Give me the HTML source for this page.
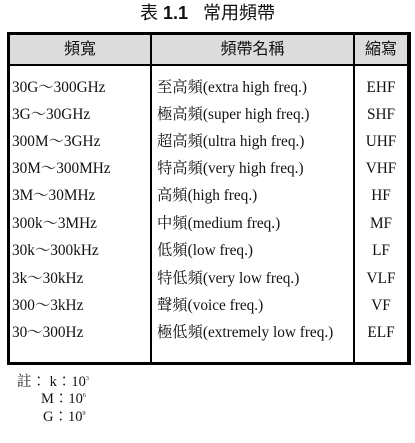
<!DOCTYPE html>
<html><head><meta charset="utf-8"><style>
body{margin:0;width:415px;height:443px;background:#fff;position:relative;overflow:hidden;font-family:"Liberation Serif","Noto Serif CJK TC",serif;color:#111}
.a{position:absolute;white-space:nowrap;line-height:1}
.t{font-size:15.3px}
.s{font-family:"Liberation Sans","Noto Sans CJK TC",sans-serif}
</style></head><body>
<div class="a s" style="left:0;width:415px;text-align:center;top:4px;font-size:18px">表 <b>1.1</b>&nbsp;&nbsp;&nbsp;常用頻帶</div>
<div style="position:absolute;left:7px;top:32px;width:397px;height:327px;border:3px solid #000;border-right-width:4px;border-bottom-width:3px;box-sizing:content-box"></div>
<div style="position:absolute;left:10px;top:35px;width:397px;height:29px;background:#dcdcdc"></div>
<div style="position:absolute;left:10px;top:64px;width:397px;height:2px;background:#000"></div>
<div style="position:absolute;left:150px;top:35px;width:2px;height:327px;background:#000"></div>
<div style="position:absolute;left:353px;top:35px;width:2px;height:327px;background:#000"></div>
<div class="a s" style="font-size:16px;left:10px;width:140px;text-align:center;top:42px">頻寬</div>
<div class="a s" style="font-size:16px;left:152px;width:201px;text-align:center;top:42px">頻帶名稱</div>
<div class="a s" style="font-size:16px;left:355px;width:52px;text-align:center;top:42px">縮寫</div>
<div class="a t" style="left:12px;top:80px">30G～300GHz</div><div class="a t" style="left:157px;top:80px">至高頻(extra high freq.)</div><div class="a t" style="left:355px;width:52px;text-align:center;top:80px">EHF</div>
<div class="a t" style="left:12px;top:107px">3G～30GHz</div><div class="a t" style="left:157px;top:107px">極高頻(super high freq.)</div><div class="a t" style="left:355px;width:52px;text-align:center;top:107px">SHF</div>
<div class="a t" style="left:12px;top:134px">300M～3GHz</div><div class="a t" style="left:157px;top:134px">超高頻(ultra high freq.)</div><div class="a t" style="left:355px;width:52px;text-align:center;top:134px">UHF</div>
<div class="a t" style="left:12px;top:161px">30M～300MHz</div><div class="a t" style="left:157px;top:161px">特高頻(very high freq.)</div><div class="a t" style="left:355px;width:52px;text-align:center;top:161px">VHF</div>
<div class="a t" style="left:12px;top:188px">3M～30MHz</div><div class="a t" style="left:157px;top:188px">高頻(high freq.)</div><div class="a t" style="left:355px;width:52px;text-align:center;top:188px">HF</div>
<div class="a t" style="left:12px;top:216px">300k～3MHz</div><div class="a t" style="left:157px;top:216px">中頻(medium freq.)</div><div class="a t" style="left:355px;width:52px;text-align:center;top:216px">MF</div>
<div class="a t" style="left:12px;top:243px">30k～300kHz</div><div class="a t" style="left:157px;top:243px">低頻(low freq.)</div><div class="a t" style="left:355px;width:52px;text-align:center;top:243px">LF</div>
<div class="a t" style="left:12px;top:271px">3k～30kHz</div><div class="a t" style="left:157px;top:271px">特低頻(very low freq.)</div><div class="a t" style="left:355px;width:52px;text-align:center;top:271px">VLF</div>
<div class="a t" style="left:12px;top:298px">300～3kHz</div><div class="a t" style="left:157px;top:298px">聲頻(voice freq.)</div><div class="a t" style="left:355px;width:52px;text-align:center;top:298px">VF</div>
<div class="a t" style="left:12px;top:325px">30～300Hz</div><div class="a t" style="left:157px;top:325px">極低頻(extremely low freq.)</div><div class="a t" style="left:355px;width:52px;text-align:center;top:325px">ELF</div>
<div class="a" style="left:17px;top:375px;font-size:14.5px">註：&nbsp;k：10<sup style="font-size:6px">3</sup></div>
<div class="a" style="left:41px;top:392px;font-size:14.5px">M：10<sup style="font-size:6px">6</sup></div>
<div class="a" style="left:43px;top:410px;font-size:14.5px">G：10<sup style="font-size:6px">9</sup></div>
</body></html>
